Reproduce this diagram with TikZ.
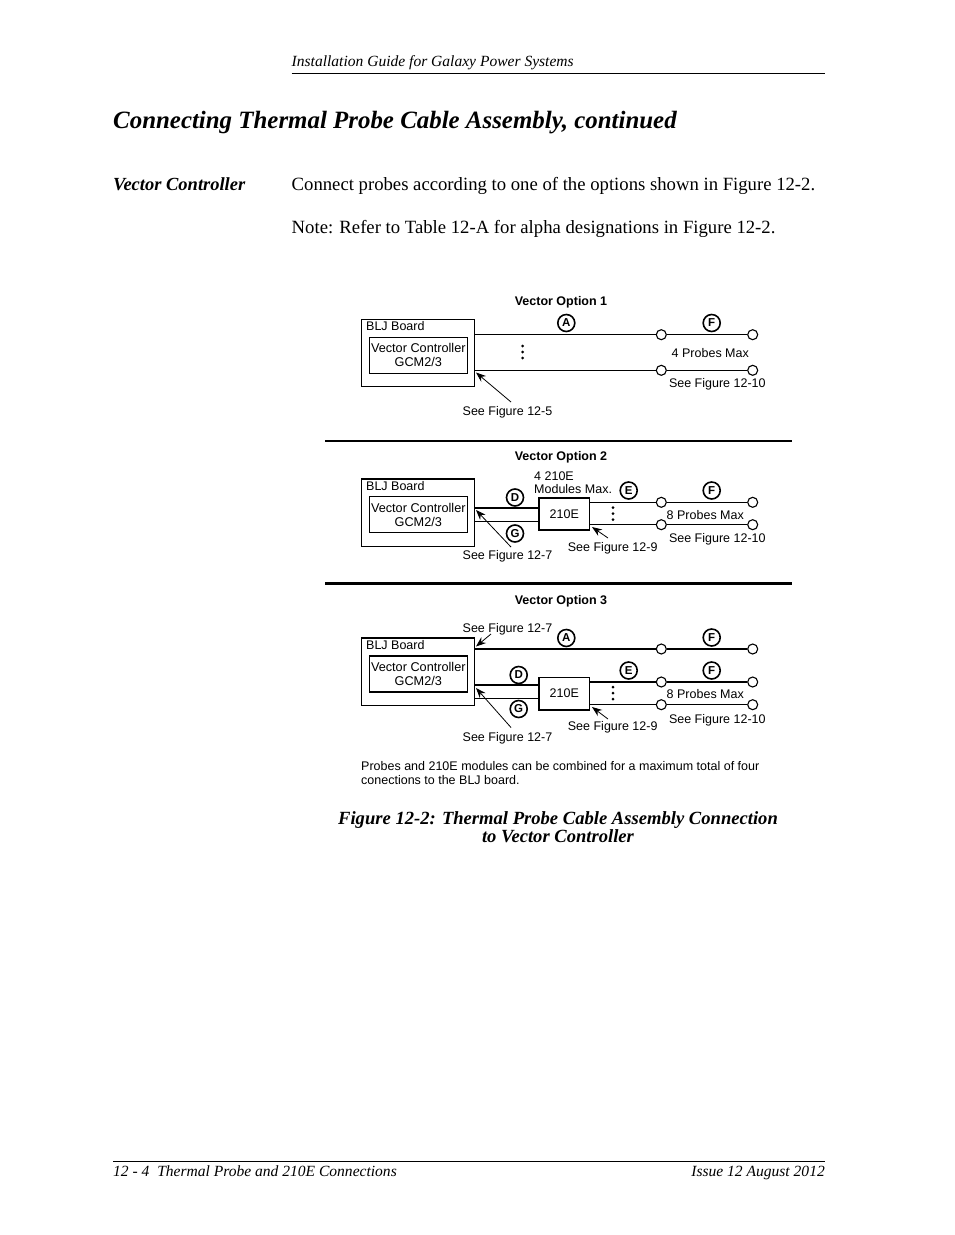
\documentclass[tikz,border=0pt]{standalone}
\usepackage{fontspec}
\setmainfont{Liberation Serif}
\setsansfont{Liberation Sans}
\usetikzlibrary{arrows.meta}
\tikzset{
 wire/.style={line width=1.2pt},
 box/.style={draw,line width=1.2pt,fill=none},
 lab/.style={font=\sffamily\fontsize{12.5}{14}\selectfont,inner sep=0pt,align=center},
 slab/.style={lab,yshift=-0.8pt},
 ctrl/.style={box,lab,minimum width=98pt,minimum height=36pt,anchor=north west,font=\sffamily\fontsize{12.7}{14}\selectfont},
 hd/.style={font=\sffamily\bfseries\fontsize{12.5}{14}\selectfont,inner sep=0pt,yshift=-0.8pt},
 letter/.style={circle,draw,line width=1.6pt,minimum size=17pt,inner sep=0pt,font=\sffamily\bfseries\fontsize{11.5}{12}\selectfont},
 term/.style={circle,draw,line width=1.1pt,fill=white,minimum size=10pt,inner sep=0pt},
 sep/.style={line width=2.4pt},
 ptr/.style={line width=0.8pt,-{Stealth[length=10pt,width=7.5pt]}},
 body/.style={anchor=base west,inner sep=0pt,font=\fontsize{18.7}{22}\selectfont},
 vdot/.style={circle,fill=black,minimum size=3pt,inner sep=0pt},
}
\newcommand{\vdotsat}[3]{% name x y
 \node[vdot] (#1a) at (#2,#3-6) {};
 \node[vdot] (#1b) at (#2,#3) {};
 \node[vdot] (#1c) at (#2,#3+6) {};}
\begin{document}
\begin{tikzpicture}[x=1pt,y=-1pt]
\useasboundingbox (0,0) rectangle (954,1235);
\fill[white] (0,0) rectangle (954,1235);
% page furniture
\node[anchor=base west,inner sep=0pt,font=\itshape\fontsize{15.55}{17}\selectfont] (hdr) at (291.5,66) {Installation Guide for Galaxy Power Systems};
\coordinate (hl) at (291.5,73.5); \coordinate (hr) at (825,73.5);
\draw[line width=0.8pt] (hl) -- (hr);
\node[anchor=base west,inner sep=0pt,font=\bfseries\itshape\fontsize{24.9}{30}\selectfont] (title) at (113,128.5) {Connecting Thermal Probe Cable Assembly, continued};
\node[anchor=base west,inner sep=0pt,font=\bfseries\itshape\fontsize{18.5}{22}\selectfont] (side) at (113,190) {Vector Controller};
\node[body] (b1) at (291.5,190) {Connect probes according to one of the options shown in Figure 12-2.};
\node[body] (b2) at (291.5,233) {Note: Refer to Table 12-A for alpha designations in Figure 12-2.};
% separators
\coordinate (s1l) at (325,441); \coordinate (s1r) at (791.5,441);
\coordinate (s2l) at (325,583.5); \coordinate (s2r) at (791.5,583.5);
\draw[sep] (s1l) -- (s1r);
\draw[sep] (s2l) -- (s2r);
% ---------- Option 1
\node[hd] (h1) at (561,301.2) {Vector Option 1};
\node[box,minimum width=113pt,minimum height=67pt,inner sep=0pt,anchor=north west] (o1) at (361,319) {};
\node[lab,anchor=base west] at (366,330.3) {BLJ Board};
\node[ctrl] (v1) at (368.7,336.7) {Vector Controller\\GCM2/3};
\node[term] (t1a) at (661.3,334.7) {};
\node[term] (t1b) at (752.7,334.7) {};
\node[term] (t1c) at (661.3,370.3) {};
\node[term] (t1d) at (752.7,370.3) {};
\coordinate (p1a) at (474,334.7);
\coordinate (p1b) at (474,370.3);
\draw[wire] (p1a) -- (t1a) (t1a) -- (t1b);
\draw[wire] (p1b) -- (t1c) (t1c) -- (t1d);
\node[letter] (lA1) at (566.3,323) {A};
\node[letter] (lF1) at (711.7,323) {F};
\vdotsat{d1}{522.7}{352}
\node[lab] (m1) at (710.3,353) {4 Probes Max};
\node[slab] (f1) at (717.3,383.7) {See Figure 12-10};
\node[slab] (f2) at (507.5,411) {See Figure 12-5};
\coordinate (a1s) at (511,402); \coordinate (a1e) at (476,372.5);
\draw[ptr] (a1s) -- (a1e);
% ---------- Option 2
\node[hd] (h2) at (561,456.2) {Vector Option 2};
\node[box,minimum width=113pt,minimum height=67.7pt,inner sep=0pt,anchor=north west] (o2) at (361,478.3) {};
\node[lab,anchor=base west] at (366,490) {BLJ Board};
\node[ctrl] (v2) at (368.7,496) {Vector Controller\\GCM2/3};
\node[box,lab,minimum width=50.7pt,minimum height=32pt,inner sep=0pt,anchor=north west] (e2) at (538.3,497.3) {210E};
\node[term] (t2a) at (661.3,502.3) {};
\node[term] (t2b) at (752.7,502.3) {};
\node[term] (t2c) at (661.3,524.7) {};
\node[term] (t2d) at (752.7,524.7) {};
\coordinate (p2a) at (474,508); \coordinate (q2a) at (538.3,508);
\coordinate (p2b) at (474,521.3); \coordinate (q2b) at (538.3,521.3);
\coordinate (r2a) at (589,502.3); \coordinate (r2b) at (589,524.7);
\draw[wire] (p2a) -- (q2a) (p2b) -- (q2b);
\draw[wire] (r2a) -- (t2a) (t2a) -- (t2b);
\draw[wire] (r2b) -- (t2c) (t2c) -- (t2d);
\node[letter] (lD2) at (515,497.5) {D};
\node[letter] (lG2) at (515,533.5) {G};
\node[letter] (lE2) at (628.7,490.5) {E};
\node[letter] (lF2) at (711.7,490.5) {F};
\node[lab,anchor=base west,align=left] (mm2) at (534,480) {4 210E};
\node[lab,anchor=base west,align=left] (mn2) at (534,493) {Modules Max.};
\vdotsat{d2}{613}{513.5}
\node[lab] (m2) at (705.3,514.7) {8 Probes Max};
\node[slab] (f3) at (717.3,538.5) {See Figure 12-10};
\node[slab] (f4) at (507.5,555) {See Figure 12-7};
\node[slab] (f5) at (612.7,547) {See Figure 12-9};
\coordinate (a2s) at (511,547); \coordinate (a2e) at (476,510);
\draw[ptr] (a2s) -- (a2e);
\coordinate (a3s) at (608,538); \coordinate (a3e) at (592,527);
\draw[ptr] (a3s) -- (a3e);
% ---------- Option 3
\node[hd] (h3) at (561,600.2) {Vector Option 3};
\node[box,minimum width=113pt,minimum height=67.4pt,inner sep=0pt,anchor=north west] (o3) at (361,637.3) {};
\node[lab,anchor=base west] at (366,649.3) {BLJ Board};
\node[ctrl] (v3) at (368.7,655.3) {Vector Controller\\GCM2/3};
\node[box,lab,minimum width=50.7pt,minimum height=32.6pt,inner sep=0pt,anchor=north west] (e3) at (538.3,676.7) {210E};
\node[term] (t3e) at (661.3,649) {};
\node[term] (t3f) at (752.7,649) {};
\node[term] (t3a) at (661.3,682) {};
\node[term] (t3b) at (752.7,682) {};
\node[term] (t3c) at (661.3,704.7) {};
\node[term] (t3d) at (752.7,704.7) {};
\coordinate (p3e) at (474,649);
\coordinate (p3a) at (474,685); \coordinate (q3a) at (538.3,685);
\coordinate (p3b) at (474,698.3); \coordinate (q3b) at (538.3,698.3);
\coordinate (r3a) at (589,682); \coordinate (r3b) at (589,704.7);
\draw[wire] (p3e) -- (t3e) (t3e) -- (t3f);
\draw[wire] (p3a) -- (q3a) (p3b) -- (q3b);
\draw[wire] (r3a) -- (t3a) (t3a) -- (t3b);
\draw[wire] (r3b) -- (t3c) (t3c) -- (t3d);
\node[letter] (lA3) at (566.3,638) {A};
\node[letter] (lF3) at (711.7,637.5) {F};
\node[letter] (lD3) at (518.7,675) {D};
\node[letter] (lG3) at (518.7,709) {G};
\node[letter] (lE3) at (628.7,670.5) {E};
\node[letter] (lF4) at (711.7,670.5) {F};
\vdotsat{d3}{613}{693}
\node[lab] (m3) at (705.3,694) {8 Probes Max};
\node[slab] (f6) at (717.3,719) {See Figure 12-10};
\node[slab] (f7) at (507.5,628) {See Figure 12-7};
\node[slab] (f8) at (507.5,737) {See Figure 12-7};
\node[slab] (f9) at (612.7,726.5) {See Figure 12-9};
\coordinate (a4s) at (491,634); \coordinate (a4e) at (476,646.5);
\draw[ptr] (a4s) -- (a4e);
\coordinate (a5s) at (511,727.5); \coordinate (a5e) at (476,688);
\draw[ptr] (a5s) -- (a5e);
\coordinate (a6s) at (608,719); \coordinate (a6e) at (592,707);
\draw[ptr] (a6s) -- (a6e);
% note
\node[lab,anchor=base west,align=left] (n1) at (361,770) {Probes and 210E modules can be combined for a maximum total of four};
\node[lab,anchor=base west,align=left] (n2) at (361,784) {conections to the BLJ board.};
% caption
\node[inner sep=0pt,align=center,font=\bfseries\itshape\fontsize{18.6}{19}\selectfont,anchor=base] (c1) at (558,824) {Figure 12-2: Thermal Probe Cable Assembly Connection};
\node[inner sep=0pt,align=center,font=\bfseries\itshape\fontsize{18.6}{19}\selectfont,anchor=base] (c2) at (558,842.5) {to Vector Controller};
% footer
\coordinate (fl) at (113,1161.5); \coordinate (fr) at (825,1161.5);
\draw[line width=0.8pt] (fl) -- (fr);
\node[anchor=base west,inner sep=0pt,font=\itshape\fontsize{15.55}{17}\selectfont] (ftl) at (113,1176) {12 - 4\ \ Thermal Probe and 210E Connections};
\node[anchor=base east,inner sep=0pt,font=\itshape\fontsize{15.55}{17}\selectfont] (ftr) at (825,1176) {Issue 12 August 2012};
\end{tikzpicture}
\end{document}
